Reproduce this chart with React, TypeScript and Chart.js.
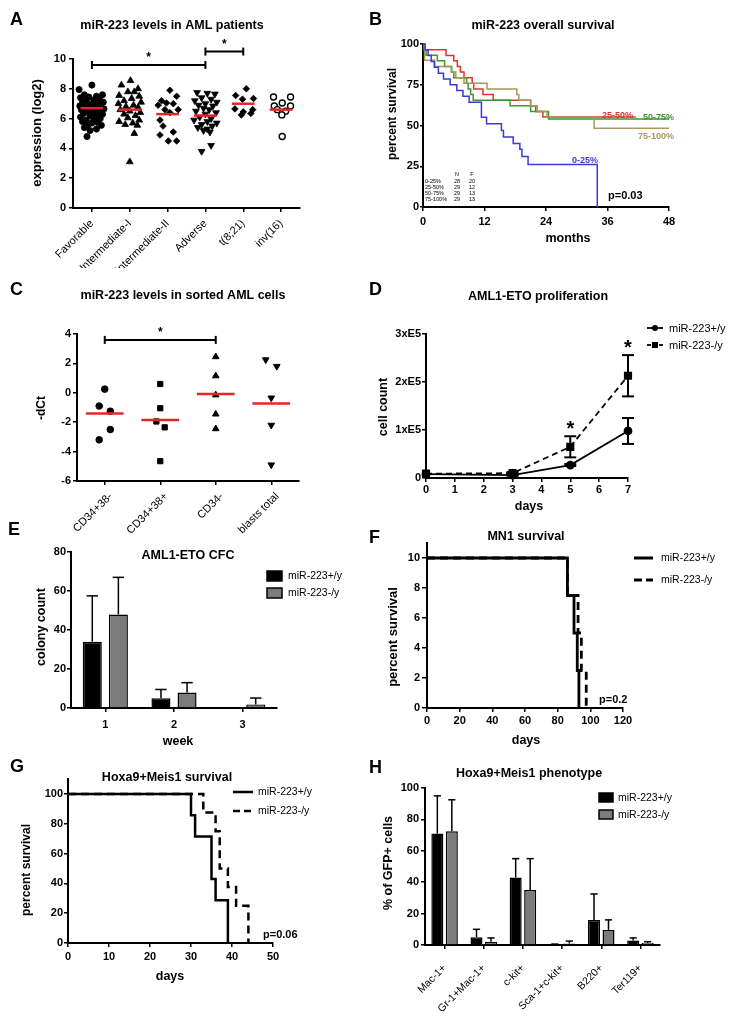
import React, { useEffect, useRef } from 'react';
import { Chart, registerables } from 'chart.js';

Chart.register(...registerables);

const W = 733;
const H = 1016;
const FONT = '"Liberation Sans", Arial, Helvetica, sans-serif';
Chart.defaults.font.family = FONT;
Chart.defaults.color = '#000';

const BLACK = '#000000';
const GRAY = '#7b7b7b';
const RED = '#e3262b';

// ---------------- Panel A ----------------
const catsA = ['Favorable', 'Intermediate-I', 'Intermediate-II', 'Adverse', 't(8;21)', 'inv(16)'];
const favY = [8.25, 7.95, 7.6, 7.6, 7.5, 7.45, 7.4, 7.3, 7.25, 7.2, 7.1, 7.05, 7.0, 6.95, 6.9, 6.85, 6.8, 6.75, 6.7, 6.65, 6.6, 6.5, 6.45, 6.4, 6.35, 6.3, 6.2, 6.15, 6.1, 6.0, 5.95, 5.9, 5.8, 5.75, 5.7, 5.6, 5.55, 5.4, 5.3, 5.2, 4.8];
const favDx = [0, -0.34, -0.2, 0.28, 0.12, -0.08, -0.3, 0.2, 0.05, -0.15, 0.3, -0.25, 0.1, -0.05, 0.22, -0.32, 0, -0.18, 0.15, 0.32, -0.28, -0.1, 0.2, 0.05, -0.22, 0.28, -0.05, 0.12, -0.3, 0.22, 0.05, -0.15, -0.25, 0.15, 0, -0.1, 0.25, -0.2, 0.12, -0.05, -0.13];
const int1Y = [8.55, 8.25, 8.0, 7.8, 7.8, 7.55, 7.5, 7.35, 7.2, 7.1, 7.0, 6.9, 6.8, 6.75, 6.6, 6.5, 6.4, 6.3, 6.2, 6.05, 5.9, 5.8, 5.7, 5.6, 5.55, 5.0, 3.1];
const int1Dx = [0.02, -0.22, 0.22, -0.05, 0.12, -0.28, 0.25, 0.05, -0.15, 0.3, -0.3, 0.1, -0.1, 0.22, -0.25, 0, 0.28, -0.15, 0.15, -0.05, 0.25, -0.28, 0.08, -0.12, 0.2, 0.12, 0];
const int2Y = [7.9, 7.5, 7.2, 7.05, 7.0, 6.9, 6.6, 6.6, 6.4, 5.9, 5.5, 5.1, 4.9, 4.5, 4.5];
const int2Dx = [0.06, 0.24, -0.16, -0.03, 0.15, -0.25, -0.07, 0.28, 0.06, -0.2, -0.12, 0.15, -0.2, 0.02, 0.24];
const advY = [7.75, 7.7, 7.65, 7.4, 7.3, 7.2, 7.1, 7.0, 6.9, 6.85, 6.7, 6.6, 6.5, 6.4, 6.3, 6.1, 6.0, 5.9, 5.8, 5.7, 5.6, 5.5, 5.4, 5.3, 5.2, 5.1, 4.2, 3.8];
const advDx = [-0.22, 0.05, 0.25, -0.1, 0.15, -0.28, 0.3, 0, -0.18, 0.2, -0.05, 0.1, -0.25, 0.28, 0, -0.15, 0.15, -0.3, 0.05, 0.3, -0.1, 0.18, -0.2, 0.05, -0.05, 0.12, 0.15, -0.1];
const t821Y = [8.0, 7.55, 7.35, 7.3, 6.65, 6.6, 6.45, 6.35, 6.25];
const t821Dx = [0.08, -0.2, 0.27, -0.02, -0.22, 0.25, 0, 0.2, -0.05];
const inv16Y = [7.45, 7.45, 7.05, 6.85, 6.85, 6.6, 6.5, 6.25, 4.8];
const inv16Dx = [-0.2, 0.25, 0.03, -0.18, 0.25, -0.1, 0.12, 0.02, 0.03];
const mediansA = [6.7, 6.6, 6.3, 6.2, 7.0, 6.6];
const yTicksA = [0, 2, 4, 6, 8, 10];
const sigA = [[0, 3, 9.6], [3, 4, 10.5]];

// ---------------- Panel B ----------------
const blueT = [0, 0.4, 1, 1.6, 2.2, 3, 4, 5.3, 6.6, 7.8, 9, 11.4, 12.4, 15.3, 15.7, 17.6, 18.9, 19.3, 20.5, 34];
const blueS = [100, 96.4, 92.9, 89.3, 85.7, 82.1, 78.6, 75, 71.4, 67.9, 64.3, 55, 51, 47, 43, 39, 35.5, 31, 26, 0];
const redT = [0, 0.3, 4.5, 6, 6.7, 7.3, 8, 9.6, 9.9, 11.7, 13.7, 21, 22, 23.4, 41.5];
const redS = [100, 96.5, 93, 89.7, 86.2, 82.8, 79.3, 75.9, 72.4, 69, 65.5, 62, 58.6, 55.2, 55.2];
const greenT = [0, 0.2, 0.6, 2.8, 4.2, 5.6, 6, 8.5, 8.8, 9.3, 9.8, 17, 21, 24.5, 48];
const greenS = [100, 96.5, 93.1, 89.7, 86.2, 82.8, 79.3, 75.9, 72.4, 69, 65.5, 62.1, 58.6, 54, 54];
const oliveT = [0, 0.3, 2.3, 5.5, 6.4, 8, 12.5, 18.3, 18.7, 21, 22.3, 24.2, 33.4, 48];
const oliveS = [100, 90, 86.2, 82.8, 79.3, 75.9, 72.4, 69, 65.5, 62.1, 58.6, 55.2, 48.3, 48.3];
const xTicksB = [0, 12, 24, 36, 48];
const yTicksB = [0, 25, 50, 75, 100];
const tableB = [['0-25%', '28', '20'], ['25-50%', '29', '12'], ['50-75%', '29', '13'], ['75-100%', '29', '13']];
const BLUE = '#3b3bd8';
const REDB = '#e0352b';
const GREEN = '#3d962c';
const OLIVE = '#a99857';

// ---------------- Panel C ----------------
const catsC = ['CD34+38-', 'CD34+38+', 'CD34-', 'blasts total'];
const c1Y = [0.25, -0.9, -1.25, -2.5, -3.2];
const c1Dx = [0, -0.1, 0.1, 0.1, -0.1];
const c2Y = [0.6, -1.05, -1.95, -2.35, -4.65];
const c2Dx = [0, 0, -0.07, 0.08, 0];
const c3Y = [2.45, 1.15, -0.15, -1.45, -2.45];
const c3Dx = [0, 0, 0, 0, 0];
const c4Y = [2.25, 1.8, -0.35, -2.2, -4.9];
const c4Dx = [-0.1, 0.1, 0, 0, 0];
const mediansC = [-1.4, -1.85, -0.08, -0.72];
const yTicksC = [-6, -4, -2, 0, 2, 4];
const sigC = [[0, 2, 3.6]];

// ---------------- Panel D ----------------
const daysD = [0, 3, 5, 7];
const wtD = [8000, 6000, 27000, 98000];
const wtErrD = [0, 1500, 2000, 27000];
const koD = [9000, 10000, 65000, 213000];
const koErrD = [0, 2500, 22000, 43000];
const xTicksD = [0, 1, 2, 3, 4, 5, 6, 7];
const yTicksD = [0, 100000, 200000, 300000];
const yLabelsD = ['0', '1xE5', '2xE5', '3xE5'];
const starsD = [5, 7];

// ---------------- Panel E ----------------
const weeksE = ['1', '2', '3'];
const wtE = [34, 5, 0];
const wtErrE = [23.5, 4.5, 0];
const koE = [48, 8, 1.8];
const koErrE = [19, 5, 3.3];
const yTicksE = [0, 20, 40, 60, 80];

// ---------------- Panel F ----------------
const wtFT = [0, 86, 90, 92, 93];
const wtFS = [10, 7.5, 5, 2.5, 0];
const koFT = [0, 86, 92.5, 94.5, 97.5];
const koFS = [10, 7.5, 5, 2.5, 0];
const xTicksF = [0, 20, 40, 60, 80, 100, 120];
const yTicksF = [0, 2, 4, 6, 8, 10];

// ---------------- Panel G ----------------
const wtGT = [0, 30, 31, 35, 36, 39];
const wtGS = [100, 85.7, 71.4, 42.9, 28.6, 0];
const koGT = [0, 33, 36, 37, 39, 41, 44];
const koGS = [100, 87.5, 75, 50, 37.5, 25, 0];
const xTicksG = [0, 10, 20, 30, 40, 50];
const yTicksG = [0, 20, 40, 60, 80, 100];

// ---------------- Panel H ----------------
const catsH = ['Mac-1+', 'Gr-1+Mac-1+', 'c-kit+', 'Sca-1+c-kit+', 'B220+', 'Ter119+'];
const wtH = [71, 5, 43, 0.3, 16, 2.8];
const wtErrH = [24, 5, 12, 0.3, 16.5, 1.7];
const koH = [72.5, 2, 35, 1, 9.5, 1.3];
const koErrH = [20, 2.5, 20, 1.5, 6.5, 0.8];
const yTicksH = [0, 20, 40, 60, 80, 100];

const legendNames = ['miR-223+/y', 'miR-223-/y'];

// ---------------- helpers ----------------
type Area = { l: number; t: number; r: number; b: number; xh: number };
const YW = 40;
const layoutFor = (a: Area) => ({ padding: { left: a.l - YW, top: a.t, right: W - a.r, bottom: H - a.b - a.xh } });
const fitY = (s: any) => { s.width = YW; s.paddingTop = 0; s.paddingBottom = 0; };
const fitX = (h: number) => (s: any) => { s.height = h; s.paddingLeft = 0; s.paddingRight = 0; };
const fontB = (size: number) => ({ family: FONT, size, weight: 'bold' as const });
const fontR = (size: number) => ({ family: FONT, size, weight: 'normal' as const });

function linAxis(o: { xh?: number; min: number; max: number; ticks: number[]; labels?: string[]; font?: any; rot?: number; pad?: number; tl?: number; off?: number }) {
  const isX = o.xh !== undefined;
  const cfg: any = {
    type: 'linear',
    position: isX ? 'bottom' : 'left',
    min: o.min,
    max: o.max,
    afterFit: isX ? fitX(o.xh as number) : fitY,
    afterBuildTicks: (s: any) => { s.ticks = o.ticks.map((v) => ({ value: v })); },
    ticks: {
      autoSkip: false,
      font: o.font || fontB(11),
      color: '#000',
      padding: o.pad ?? 2,
      labelOffset: o.off ?? 0,
      callback: (v: number, i: number) => (o.labels ? o.labels[i] : String(v)),
    },
    grid: { drawOnChartArea: false, drawTicks: true, tickLength: o.tl ?? 4, color: '#000', lineWidth: 1.5 },
    border: { display: true, color: '#000', width: 2 },
  };
  if (o.rot !== undefined) { cfg.ticks.minRotation = o.rot; cfg.ticks.maxRotation = o.rot; }
  return cfg;
}

function catAxis(o: { xh: number; font?: any; rot?: number; pad?: number; tl?: number; off?: number }) {
  const cfg: any = {
    type: 'category',
    position: 'bottom',
    offset: true,
    afterFit: fitX(o.xh),
    ticks: { autoSkip: false, font: o.font || fontB(11), color: '#000', padding: o.pad ?? 2, labelOffset: o.off ?? 0 },
    grid: { drawOnChartArea: false, drawTicks: true, tickLength: o.tl ?? 4, color: '#000', lineWidth: 1.5, offset: false },
    border: { display: true, color: '#000', width: 2 },
  };
  if (o.rot !== undefined) { cfg.ticks.minRotation = o.rot; cfg.ticks.maxRotation = o.rot; }
  return cfg;
}

function baseOptions(area: Area, scales: any) {
  return {
    responsive: false,
    animation: false,
    events: [],
    layout: layoutFor(area),
    scales,
    plugins: { legend: { display: false }, tooltip: { enabled: false }, title: { display: false } },
  };
}

function txt(ctx: CanvasRenderingContext2D, s: string, x: number, y: number, size: number, o: any = {}) {
  ctx.save();
  ctx.font = `${o.bold === false ? 'normal' : 'bold'} ${size}px ${FONT}`;
  ctx.fillStyle = o.color || '#000';
  ctx.textAlign = o.align || 'center';
  if (o.rot) {
    ctx.translate(x, y);
    ctx.rotate(-Math.PI / 2);
    ctx.textBaseline = 'middle';
    ctx.fillText(s, 0, 0);
  } else {
    ctx.textBaseline = o.base || 'alphabetic';
    ctx.fillText(s, x, y);
  }
  ctx.restore();
}

function seg(ctx: CanvasRenderingContext2D, x1: number, y1: number, x2: number, y2: number, w = 2, dash: number[] = [], color = '#000') {
  ctx.save();
  ctx.beginPath();
  ctx.setLineDash(dash);
  ctx.lineWidth = w;
  ctx.strokeStyle = color;
  ctx.moveTo(x1, y1);
  ctx.lineTo(x2, y2);
  ctx.stroke();
  ctx.restore();
}

type Tx = [string, number, number, number, any?];
function drawTexts(ctx: CanvasRenderingContext2D, list: Tx[]) {
  list.forEach(([s, x, y, size, o]) => txt(ctx, s, x, y, size, o || {}));
}

function decor(draw: (chart: any) => void) {
  return { id: 'decor', afterDatasetsDraw(chart: any) { draw(chart); } };
}

function sigBar(chart: any, i1: number, i2: number, v: number) {
  const ctx = chart.ctx;
  const xs = chart.scales.x;
  const ys = chart.scales.y;
  const x1 = xs.getPixelForValue(i1);
  const x2 = xs.getPixelForValue(i2);
  const y = ys.getPixelForValue(v);
  seg(ctx, x1, y, x2, y, 2);
  seg(ctx, x1, y - 4, x1, y + 4, 2);
  seg(ctx, x2, y - 4, x2, y + 4, 2);
  txt(ctx, '*', (x1 + x2) / 2, y - 3.5, 12);
}

function medianLines(chart: any, meds: number[], half: number) {
  const ctx = chart.ctx;
  const xs = chart.scales.x;
  const ys = chart.scales.y;
  meds.forEach((m, i) => {
    const y = ys.getPixelForValue(m);
    seg(ctx, xs.getPixelForValue(i - half), y, xs.getPixelForValue(i + half), y, 2.5, [], RED);
  });
}

function barErrors(chart: any, di: number, means: number[], sds: number[]) {
  const ctx = chart.ctx;
  const ys = chart.scales.y;
  chart.getDatasetMeta(di).data.forEach((el: any, j: number) => {
    if (!(sds[j] > 0)) return;
    const p = el.getProps(['x', 'width'], true);
    const yb = ys.getPixelForValue(means[j]);
    const yt = ys.getPixelForValue(means[j] + sds[j]);
    seg(ctx, p.x, yb, p.x, yt, 1.5);
    seg(ctx, p.x - p.width * 0.3, yt, p.x + p.width * 0.3, yt, 1.5);
  });
}

function boxLegend(ctx: CanvasRenderingContext2D, x: number, y: number, w: number, h: number, gap: number, tx: number, size: number) {
  [BLACK, GRAY].forEach((c, i) => {
    const yy = y + i * gap;
    ctx.save();
    ctx.fillStyle = c;
    ctx.fillRect(x, yy, w, h);
    ctx.lineWidth = 1.5;
    ctx.strokeStyle = BLACK;
    ctx.strokeRect(x, yy, w, h);
    ctx.restore();
    txt(ctx, legendNames[i], tx, yy + h / 2 + 0.5, size, { bold: false, align: 'left', base: 'middle' });
  });
}

function lineLegend(ctx: CanvasRenderingContext2D, x1: number, x2: number, y: number, gap: number, tx: number, size: number, lw: number, dash: number[]) {
  seg(ctx, x1, y, x2, y, lw);
  seg(ctx, x1, y + gap, x2, y + gap, lw, dash);
  txt(ctx, legendNames[0], tx, y + 0.5, size, { bold: false, align: 'left', base: 'middle' });
  txt(ctx, legendNames[1], tx, y + gap + 0.5, size, { bold: false, align: 'left', base: 'middle' });
}

const pts = (xs: number[], ys: number[]) => xs.map((x, i) => ({ x, y: ys[i] }));

// ---------------- configs ----------------
const areaA: Area = { l: 73, t: 59, r: 300, b: 208, xh: 60 };
const areaB: Area = { l: 423, t: 44, r: 669, b: 207, xh: 40 };
const areaC: Area = { l: 77, t: 334, r: 299, b: 481, xh: 60 };
const areaD: Area = { l: 426, t: 334, r: 628, b: 478, xh: 40 };
const areaE: Area = { l: 71, t: 552, r: 277, b: 708, xh: 40 };
const areaF: Area = { l: 427, t: 543, r: 623, b: 708, xh: 40 };
const areaG: Area = { l: 68, t: 779, r: 273, b: 943, xh: 40 };
const areaH: Area = { l: 425, t: 788, r: 660, b: 945, xh: 66 };

function cfgA(): any {
  const groups = [
    { y: favY, dx: favDx, style: 'circle', r: 3.1, fill: BLACK, rot: 0, bw: 0.8 },
    { y: int1Y, dx: int1Dx, style: 'triangle', r: 3.9, fill: BLACK, rot: 0, bw: 0.8 },
    { y: int2Y, dx: int2Dx, style: 'rectRot', r: 3.3, fill: BLACK, rot: 0, bw: 0.8 },
    { y: advY, dx: advDx, style: 'triangle', r: 3.9, fill: BLACK, rot: 180, bw: 0.8 },
    { y: t821Y, dx: t821Dx, style: 'rectRot', r: 3.3, fill: BLACK, rot: 0, bw: 0.8 },
    { y: inv16Y, dx: inv16Dx, style: 'circle', r: 3.0, fill: '#ffffff', rot: 0, bw: 1.4 },
  ];
  return {
    type: 'scatter',
    data: {
      datasets: groups.map((g, i) => ({
        data: g.y.map((v, k) => ({ x: i + g.dx[k], y: v })),
        pointStyle: g.style,
        pointRadius: g.r,
        pointRotation: g.rot,
        pointBackgroundColor: g.fill,
        pointBorderColor: BLACK,
        pointBorderWidth: g.bw,
      })),
    },
    options: baseOptions(areaA, {
      x: linAxis({ xh: areaA.xh, min: -0.5, max: 5.5, ticks: [0, 1, 2, 3, 4, 5], labels: catsA, font: fontR(11), rot: 45, pad: 5 }),
      y: linAxis({ min: 0, max: 10, ticks: yTicksA, pad: 3 }),
    }),
    plugins: [decor((c) => {
      medianLines(c, mediansA, 0.3);
      sigA.forEach(([a, b, v]) => sigBar(c, a, b, v));
      drawTexts(c.ctx, [
        ['A', 10, 25, 18, { align: 'left' }],
        ['miR-223 levels in AML patients', 172, 29, 12.5],
        ['expression (log2)', 37, 133, 13, { rot: true }],
      ]);
    })],
  };
}

function cfgB(): any {
  const series = [
    { t: blueT, s: blueS, c: BLUE },
    { t: oliveT, s: oliveS, c: OLIVE },
    { t: greenT, s: greenS, c: GREEN },
    { t: redT, s: redS, c: REDB },
  ];
  return {
    type: 'line',
    data: {
      datasets: series.map((d) => ({
        data: pts(d.t, d.s), borderColor: d.c, borderWidth: 1.5, stepped: 'before', pointRadius: 0, clip: false,
      })),
    },
    options: baseOptions(areaB, {
      x: linAxis({ xh: areaB.xh, min: 0, max: 48, ticks: xTicksB, pad: 4 }),
      y: linAxis({ min: 0, max: 100, ticks: yTicksB, pad: 1, tl: 3 }),
    }),
    plugins: [decor((c) => {
      const ctx = c.ctx;
      drawTexts(ctx, [
        ['B', 369, 25, 18, { align: 'left' }],
        ['miR-223 overall survival', 543, 29, 12.5],
        ['percent survival', 393, 114, 12, { rot: true }],
        ['months', 568, 242, 12.5],
        ['25-50%', 633, 118, 9, { align: 'right', color: REDB }],
        ['50-75%', 674, 120, 9, { align: 'right', color: GREEN }],
        ['75-100%', 674, 139, 9, { align: 'right', color: OLIVE }],
        ['0-25%', 598, 163, 9, { align: 'right', color: BLUE }],
        ['p=0.03', 608, 199, 11, { align: 'left' }],
        ['N', 457, 175.5, 5.5, { bold: false }],
        ['F', 472, 175.5, 5.5, { bold: false }],
      ]);
      tableB.forEach((row, i) => {
        const y = 183 + i * 6;
        txt(ctx, row[0], 425, y, 5.5, { bold: false, align: 'left' });
        txt(ctx, row[1], 457, y, 5.5, { bold: false });
        txt(ctx, row[2], 472, y, 5.5, { bold: false });
      });
    })],
  };
}

function cfgC(): any {
  const groups = [
    { y: c1Y, dx: c1Dx, style: 'circle', r: 3.3, rot: 0 },
    { y: c2Y, dx: c2Dx, style: 'rect', r: 3.7, rot: 0 },
    { y: c3Y, dx: c3Dx, style: 'triangle', r: 3.8, rot: 0 },
    { y: c4Y, dx: c4Dx, style: 'triangle', r: 3.8, rot: 180 },
  ];
  return {
    type: 'scatter',
    data: {
      datasets: groups.map((g, i) => ({
        data: g.y.map((v, k) => ({ x: i + g.dx[k], y: v })),
        pointStyle: g.style,
        pointRadius: g.r,
        pointRotation: g.rot,
        pointBackgroundColor: BLACK,
        pointBorderColor: BLACK,
        pointBorderWidth: 1,
      })),
    },
    options: baseOptions(areaC, {
      x: linAxis({ xh: areaC.xh, min: -0.5, max: 3.5, ticks: [0, 1, 2, 3], labels: catsC, font: fontR(11), rot: 45, pad: 5, off: 6 }),
      y: linAxis({ min: -6, max: 4, ticks: yTicksC, pad: 2 }),
    }),
    plugins: [decor((c) => {
      medianLines(c, mediansC, 0.34);
      sigC.forEach(([a, b, v]) => sigBar(c, a, b, v));
      drawTexts(c.ctx, [
        ['C', 10, 295, 18, { align: 'left' }],
        ['miR-223 levels in sorted AML cells', 183, 299, 12.5],
        ['-dCt', 42, 408, 12, { rot: true }],
      ]);
    })],
  };
}

function cfgD(): any {
  return {
    type: 'line',
    data: {
      datasets: [
        { data: pts(daysD, wtD), borderColor: BLACK, borderWidth: 1.8, pointStyle: 'circle', pointRadius: 3.5, pointBackgroundColor: BLACK, pointBorderColor: BLACK, clip: false },
        { data: pts(daysD, koD), borderColor: BLACK, borderWidth: 1.8, borderDash: [6, 4], pointStyle: 'rect', pointRadius: 4.5, pointBackgroundColor: BLACK, pointBorderColor: BLACK, clip: false },
      ],
    },
    options: baseOptions(areaD, {
      x: linAxis({ xh: areaD.xh, min: 0, max: 7, ticks: xTicksD, pad: 1 }),
      y: linAxis({ min: 0, max: 300000, ticks: yTicksD, labels: yLabelsD, pad: 1 }),
    }),
    plugins: [decor((c) => {
      const ctx = c.ctx;
      const xs = c.scales.x;
      const ys = c.scales.y;
      [[wtD, wtErrD], [koD, koErrD]].forEach(([m, e]) => {
        daysD.forEach((d, i) => {
          if (!(e[i] > 0)) return;
          const x = xs.getPixelForValue(d);
          const y1 = ys.getPixelForValue(m[i] - e[i]);
          const y2 = ys.getPixelForValue(m[i] + e[i]);
          seg(ctx, x, y1, x, y2, 2);
          seg(ctx, x - 6, y1, x + 6, y1, 2);
          seg(ctx, x - 6, y2, x + 6, y2, 2);
        });
      });
      starsD.forEach((d) => {
        const i = daysD.indexOf(d);
        const x = xs.getPixelForValue(d);
        const y = ys.getPixelForValue(koD[i] + koErrD[i]);
        txt(ctx, '*', x, y - 1, 20);
      });
      // legend
      seg(ctx, 647, 328, 663, 328, 1.8);
      ctx.save();
      ctx.fillStyle = BLACK;
      ctx.beginPath();
      ctx.arc(655, 328, 3, 0, Math.PI * 2);
      ctx.fill();
      ctx.restore();
      seg(ctx, 647, 345, 651, 345, 1.8);
      seg(ctx, 659, 345, 663, 345, 1.8);
      ctx.save();
      ctx.fillStyle = BLACK;
      ctx.fillRect(652, 342, 6, 6);
      ctx.restore();
      txt(ctx, legendNames[0], 669, 328.5, 11, { bold: false, align: 'left', base: 'middle' });
      txt(ctx, legendNames[1], 669, 345.5, 11, { bold: false, align: 'left', base: 'middle' });
      drawTexts(ctx, [
        ['D', 369, 295, 18, { align: 'left' }],
        ['AML1-ETO proliferation', 538, 300, 12.5],
        ['cell count', 384, 407, 12.5, { rot: true }],
        ['days', 529, 510, 12.5],
      ]);
    })],
  };
}

function cfgE(): any {
  return {
    type: 'bar',
    data: {
      labels: weeksE,
      datasets: [
        { data: wtE, backgroundColor: BLACK, borderColor: BLACK, borderWidth: 1.5, barPercentage: 0.73, categoryPercentage: 0.76 },
        { data: koE, backgroundColor: GRAY, borderColor: BLACK, borderWidth: 1.5, barPercentage: 0.73, categoryPercentage: 0.76 },
      ],
    },
    options: baseOptions(areaE, {
      x: catAxis({ xh: areaE.xh, pad: 6 }),
      y: linAxis({ min: 0, max: 80, ticks: yTicksE, pad: 1 }),
    }),
    plugins: [decor((c) => {
      barErrors(c, 0, wtE, wtErrE);
      barErrors(c, 1, koE, koErrE);
      boxLegend(c.ctx, 267, 571, 15, 10, 17, 288, 10.5);
      drawTexts(c.ctx, [
        ['E', 8, 535, 18, { align: 'left' }],
        ['AML1-ETO CFC', 188, 559, 12.5],
        ['colony count', 42, 627, 12.5, { rot: true }],
        ['week', 178, 745, 12.5],
      ]);
    })],
  };
}

function cfgF(): any {
  return {
    type: 'line',
    data: {
      datasets: [
        { data: pts(wtFT, wtFS), borderColor: BLACK, borderWidth: 2.8, stepped: 'before', pointRadius: 0, clip: false },
        { data: pts(koFT, koFS), borderColor: BLACK, borderWidth: 2.8, borderDash: [8, 5], stepped: 'before', pointRadius: 0, clip: false },
      ],
    },
    options: baseOptions(areaF, {
      x: linAxis({ xh: areaF.xh, min: 0, max: 120, ticks: xTicksF, pad: 2 }),
      y: linAxis({ min: 0, max: 11, ticks: yTicksF, pad: 2, tl: 5 }),
    }),
    plugins: [decor((c) => {
      lineLegend(c.ctx, 634, 653, 558, 22, 661, 10.5, 3, [8, 4]);
      drawTexts(c.ctx, [
        ['F', 369, 543, 18, { align: 'left' }],
        ['MN1 survival', 526, 540, 12.5],
        ['percent survival', 393, 637, 13, { rot: true }],
        ['days', 526, 744, 12.5],
        ['p=0.2', 599, 703, 11, { align: 'left' }],
      ]);
    })],
  };
}

function cfgG(): any {
  return {
    type: 'line',
    data: {
      datasets: [
        { data: pts(wtGT, wtGS), borderColor: BLACK, borderWidth: 2.5, stepped: 'before', pointRadius: 0, clip: false },
        { data: pts(koGT, koGS), borderColor: BLACK, borderWidth: 2.5, borderDash: [8, 5], stepped: 'before', pointRadius: 0, clip: false },
      ],
    },
    options: baseOptions(areaG, {
      x: linAxis({ xh: areaG.xh, min: 0, max: 50, ticks: xTicksG, pad: 3 }),
      y: linAxis({ min: 0, max: 110, ticks: yTicksG, pad: 1 }),
    }),
    plugins: [decor((c) => {
      lineLegend(c.ctx, 233, 253, 792, 19, 258, 10.5, 2.5, [7, 4]);
      drawTexts(c.ctx, [
        ['G', 10, 772, 18, { align: 'left' }],
        ['Hoxa9+Meis1 survival', 167, 781, 12.5],
        ['percent survival', 27, 870, 12, { rot: true }],
        ['days', 170, 980, 12.5],
        ['p=0.06', 263, 938, 11, { align: 'left' }],
      ]);
    })],
  };
}

function cfgH(): any {
  return {
    type: 'bar',
    data: {
      labels: catsH,
      datasets: [
        { data: wtH, backgroundColor: BLACK, borderColor: BLACK, borderWidth: 1.5, barPercentage: 0.83, categoryPercentage: 0.74 },
        { data: koH, backgroundColor: GRAY, borderColor: BLACK, borderWidth: 1.5, barPercentage: 0.83, categoryPercentage: 0.74 },
      ],
    },
    options: baseOptions(areaH, {
      x: catAxis({ xh: areaH.xh, font: fontR(10.5), rot: 45, pad: 13 }),
      y: linAxis({ min: 0, max: 100, ticks: yTicksH, pad: 2 }),
    }),
    plugins: [decor((c) => {
      barErrors(c, 0, wtH, wtErrH);
      barErrors(c, 1, koH, koErrH);
      boxLegend(c.ctx, 599, 793, 14, 9, 17, 618, 10.5);
      drawTexts(c.ctx, [
        ['H', 369, 773, 18, { align: 'left' }],
        ['Hoxa9+Meis1 phenotype', 529, 777, 12.5],
        ['% of GFP+ cells', 389, 863, 12.5, { rot: true }],
      ]);
    })],
  };
}

const builders = [cfgA, cfgB, cfgC, cfgD, cfgE, cfgF, cfgG, cfgH];

export default function App() {
  const refs = useRef<(HTMLCanvasElement | null)[]>([]);
  useEffect(() => {
    const charts = builders.map((b, i) => new Chart(refs.current[i] as HTMLCanvasElement, b()));
    return () => charts.forEach((c) => c.destroy());
  }, []);
  return (
    <div style={{ position: 'absolute', left: 0, top: 0, width: W, height: H, background: '#fff', overflow: 'hidden' }}>
      {builders.map((_, i) => (
        <canvas
          key={i}
          ref={(el) => { refs.current[i] = el; }}
          width={W}
          height={H}
          style={{ position: 'absolute', left: 0, top: 0, width: W, height: H }}
        />
      ))}
    </div>
  );
}
